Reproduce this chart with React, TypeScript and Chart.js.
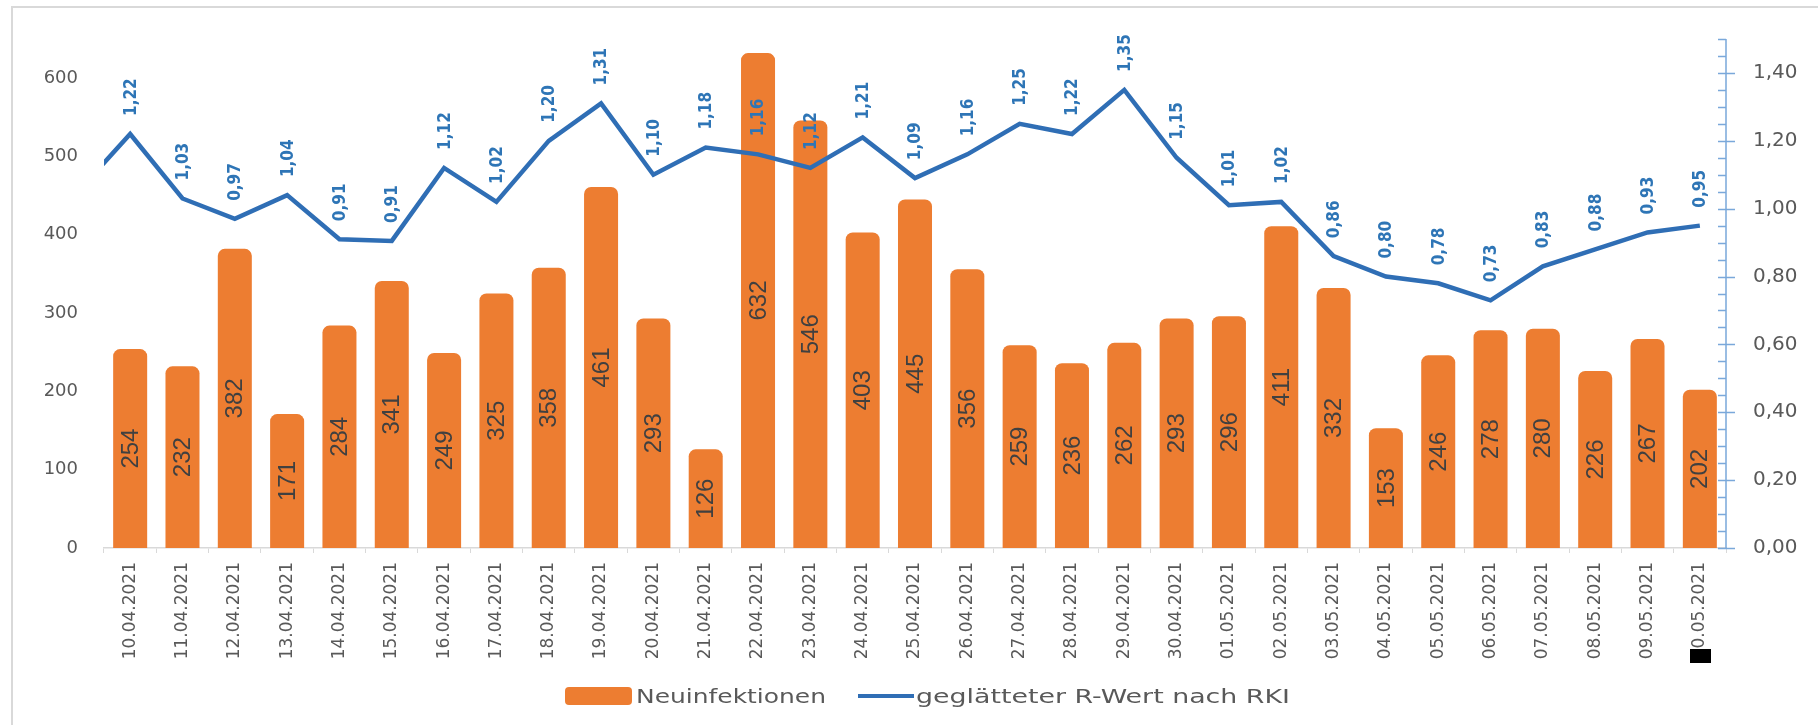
import { useEffect, useRef } from 'react';
import { Chart, registerables } from 'chart.js';

Chart.register(...registerables);

// Categories (first and last are only partly visible: the R line enters and leaves the plot)
const dates = [
  '09.04.2021',
  '10.04.2021', '11.04.2021', '12.04.2021', '13.04.2021', '14.04.2021', '15.04.2021',
  '16.04.2021', '17.04.2021', '18.04.2021', '19.04.2021', '20.04.2021', '21.04.2021',
  '22.04.2021', '23.04.2021', '24.04.2021', '25.04.2021', '26.04.2021', '27.04.2021',
  '28.04.2021', '29.04.2021', '30.04.2021', '01.05.2021', '02.05.2021', '03.05.2021',
  '04.05.2021', '05.05.2021', '06.05.2021', '07.05.2021', '08.05.2021', '09.05.2021',
  '10.05.2021',
  '11.05.2021',
];

const neuinfektionen: (number | null)[] = [
  null,
  254, 232, 382, 171, 284, 341, 249, 325, 358, 461, 293, 126, 632, 546, 403, 445,
  356, 259, 236, 262, 293, 296, 411, 332, 153, 246, 278, 280, 226, 267, 202,
  null,
];

const rWert: number[] = [
  1.05,
  1.22, 1.03, 0.97, 1.04, 0.91, 0.905, 1.12, 1.02, 1.20, 1.31, 1.10, 1.18, 1.16, 1.12,
  1.21, 1.09, 1.16, 1.25, 1.22, 1.35, 1.15, 1.01, 1.02, 0.86, 0.80, 0.78, 0.73, 0.83,
  0.88, 0.93, 0.95,
  0.96,
];

const rLabels: string[] = [
  '',
  '1,22', '1,03', '0,97', '1,04', '0,91', '0,91', '1,12', '1,02', '1,20', '1,31', '1,10',
  '1,18', '1,16', '1,12', '1,21', '1,09', '1,16', '1,25', '1,22', '1,35', '1,15', '1,01',
  '1,02', '0,86', '0,80', '0,78', '0,73', '0,83', '0,88', '0,93', '0,95',
  '',
];

const firstVisible = '10.04.2021';
const lastVisible = '10.05.2021';

const ORANGE = '#ED7D31';
const LINE_BLUE = '#2F6EB5';
const LABEL_BLUE = '#2E75B6';
const AXIS_BLUE = '#7AA8DA';
const GRAY = '#595959';
const FONT = '"DejaVu Sans", sans-serif';
const BAR_FONT = '"Liberation Sans", Arial, sans-serif';
const R_FONT = '"DejaVu Sans Condensed", "DejaVu Sans", sans-serif';

const fmtR = (v: number) => Number(v).toFixed(2).replace('.', ',');

const valueLabels = {
  id: 'valueLabels',
  afterDatasetsDraw(chart: any) {
    const ctx = chart.ctx;
    const xs = chart.scales.x;
    chart.data.datasets.forEach((ds: any, di: number) => {
      const meta = chart.getDatasetMeta(di);
      meta.data.forEach((el: any, i: number) => {
        const v = ds.data[i];
        if (v == null || i < xs.min || i > xs.max) return;
        ctx.save();
        if (meta.type === 'bar') {
          const p = el.getProps(['x', 'y', 'base'], true);
          ctx.translate(p.x, (p.y + p.base) / 2);
          ctx.rotate(-Math.PI / 2);
          ctx.font = `24px ${BAR_FONT}`;
          ctx.fillStyle = '#404040';
          ctx.textAlign = 'center';
          ctx.textBaseline = 'middle';
          ctx.fillText(String(v), 0, 1);
        } else {
          ctx.translate(el.x, el.y - 18);
          ctx.rotate(-Math.PI / 2);
          ctx.font = `bold 17px ${R_FONT}`;
          ctx.fillStyle = LABEL_BLUE;
          ctx.textAlign = 'left';
          ctx.textBaseline = 'middle';
          ctx.fillText(rLabels[i] || fmtR(v), 0, 1);
        }
        ctx.restore();
      });
    });
  },
};

const rightAxisTicks = {
  id: 'rightAxisTicks',
  afterDraw(chart: any) {
    const s = chart.scales.y1;
    const ctx = chart.ctx;
    const x = s.left;
    ctx.save();
    ctx.strokeStyle = AXIS_BLUE;
    ctx.lineWidth = 1.5;
    ctx.beginPath();
    ctx.moveTo(x, s.getPixelForValue(0));
    ctx.lineTo(x, s.getPixelForValue(1.5));
    for (let k = 0; k <= 30; k++) {
      const y = Math.round(s.getPixelForValue(k * 0.05)) + 0.5;
      const major = k % 4 === 0;
      ctx.moveTo(x - 8, y);
      ctx.lineTo(major ? x + 9 : x, y);
    }
    ctx.stroke();
    ctx.restore();
  },
};

function fitScale(text: string, font: string, target: number) {
  const c = document.createElement('canvas').getContext('2d');
  if (!c) return 1;
  c.font = font;
  const w = c.measureText(text).width;
  return w > 0 ? target / w : 1;
}

export default function App() {
  const ref = useRef<HTMLCanvasElement | null>(null);

  useEffect(() => {
    if (!ref.current) return;
    const chart = new Chart(ref.current, {
      type: 'bar',
      data: {
        labels: dates,
        datasets: [
          {
            type: 'line',
            label: 'geglätteter R-Wert nach RKI',
            data: rWert,
            yAxisID: 'y1',
            borderColor: LINE_BLUE,
            backgroundColor: LINE_BLUE,
            borderWidth: 4.5,
            pointRadius: 0,
            tension: 0,
            order: 0,
          } as any,
          {
            type: 'bar',
            label: 'Neuinfektionen',
            data: neuinfektionen,
            yAxisID: 'y',
            backgroundColor: ORANGE,
            borderRadius: { topLeft: 7, topRight: 7, bottomLeft: 0, bottomRight: 0 },
            borderSkipped: 'bottom',
            categoryPercentage: 1,
            barPercentage: 0.65,
            order: 1,
          } as any,
        ],
      },
      options: {
        animation: false,
        responsive: false,
        maintainAspectRatio: false,
        devicePixelRatio: 1,
        layout: { padding: { top: 33, left: 0, right: 0, bottom: 0 } },
        plugins: {
          legend: { display: false },
          tooltip: { enabled: false },
          title: { display: false },
        },
        scales: {
          x: {
            type: 'category',
            min: firstVisible,
            max: lastVisible,
            offset: true,
            grid: {
              display: true,
              drawOnChartArea: false,
              drawTicks: true,
              tickLength: 5,
              color: '#d9d9d9',
              offset: true,
            },
            border: { display: true, color: '#d9d9d9', width: 1.5 },
            ticks: {
              autoSkip: false,
              minRotation: 90,
              maxRotation: 90,
              padding: 9,
              color: GRAY,
              font: { family: FONT, size: 17 },
            },
            afterFit: (s: any) => {
              s.height = 177;
            },
          },
          y: {
            type: 'linear',
            position: 'left',
            min: 0,
            max: 650,
            grid: { display: false, drawTicks: false },
            border: { display: false },
            ticks: {
              stepSize: 100,
              includeBounds: false,
              padding: 26,
              color: GRAY,
              font: { family: FONT, size: 18 },
            },
            afterFit: (s: any) => {
              s.width = 104;
            },
          },
          y1: {
            type: 'linear',
            position: 'right',
            min: 0,
            max: 1.5,
            grid: { display: false, drawTicks: false },
            border: { display: false },
            ticks: {
              stepSize: 0.2,
              includeBounds: false,
              padding: 27,
              color: GRAY,
              font: { family: FONT, size: 20 },
              callback: (v: any) => fmtR(Number(v)),
            },
            afterFit: (s: any) => {
              s.width = 92;
            },
          },
        },
      } as any,
      plugins: [valueLabels, rightAxisTicks],
    });
    return () => chart.destroy();
  }, []);

  const legendFont = `20px ${FONT}`;
  const k1 = fitScale('Neuinfektionen', legendFont, 190);
  const k2 = fitScale('geglätteter R-Wert nach RKI', legendFont, 374);

  const textStyle = (left: number, k: number): React.CSSProperties => ({
    position: 'absolute',
    left,
    top: 696,
    font: legendFont,
    color: GRAY,
    whiteSpace: 'nowrap',
    lineHeight: 1,
    transform: `translateY(-50%) scaleX(${k})`,
    transformOrigin: 'left center',
  });

  return (
    <div
      style={{
        position: 'fixed',
        left: 0,
        top: 0,
        width: 1818,
        height: 725,
        background: '#ffffff',
        overflow: 'hidden',
      }}
    >
      <div
        style={{
          position: 'absolute',
          left: 11,
          top: 6,
          width: 1850,
          height: 760,
          border: '2px solid #d9d9d9',
          boxSizing: 'border-box',
        }}
      />
      <canvas
        ref={ref}
        width={1818}
        height={725}
        style={{ position: 'absolute', left: 0, top: 0, width: 1818, height: 725 }}
      />
      <div
        style={{
          position: 'absolute',
          left: 565,
          top: 687,
          width: 67,
          height: 18,
          borderRadius: 4,
          background: ORANGE,
        }}
      />
      <div style={textStyle(636, k1)}>Neuinfektionen</div>
      <div
        style={{
          position: 'absolute',
          left: 858,
          top: 694,
          width: 56,
          height: 4,
          background: LINE_BLUE,
        }}
      />
      <div style={textStyle(916, k2)}>geglätteter R-Wert nach RKI</div>
      <div
        style={{
          position: 'absolute',
          left: 1690,
          top: 649,
          width: 21,
          height: 14,
          background: '#000000',
        }}
      />
    </div>
  );
}
